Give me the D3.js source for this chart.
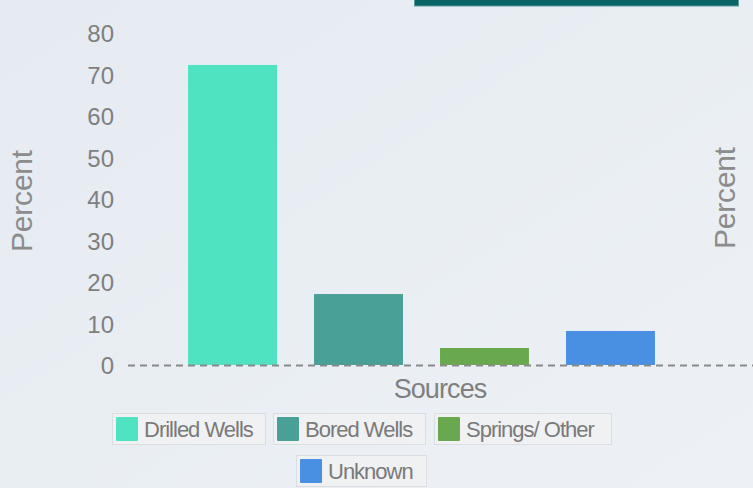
<!DOCTYPE html>
<html>
<head>
<meta charset="utf-8">
<script src="https://cdn.jsdelivr.net/npm/d3@7"></script>
<style>
  body { margin: 0; background: #e8eef4; }
  svg { display: block; font-family: "Liberation Sans", Arial, sans-serif; }
</style>
</head>
<body>
<svg id="chart" width="753" height="488"></svg>
<script>
const categories = ["Drilled Wells", "Bored Wells", "Springs/ Other", "Unknown"];
const values = [72.3, 17.1, 4.1, 8.2];
const colors = ["#50e3c2", "#48a097", "#6aa84f", "#4a90e2"];
const yTicks = [0, 10, 20, 30, 40, 50, 60, 70, 80];

const svg = d3.select("#chart"),
      width = +svg.attr("width"),
      height = +svg.attr("height");

// background
const grad = svg.append("defs").append("linearGradient")
    .attr("id", "bg").attr("x1", 0).attr("y1", 0).attr("x2", 1).attr("y2", 1);
grad.append("stop").attr("offset", "0%").attr("stop-color", "#e5ebf1");
grad.append("stop").attr("offset", "100%").attr("stop-color", "#edf1f6");
svg.append("rect").attr("width", width).attr("height", height).attr("fill", "url(#bg)");

// header strip
svg.append("rect")
    .attr("x", 414.5).attr("y", -2).attr("width", 324).attr("height", 8)
    .attr("fill", "#0a6466").attr("stroke", "#5a9a9c").attr("stroke-width", 1);

const x = d3.scaleBand()
    .domain(categories)
    .range([151, 692])
    .paddingInner(0.294)
    .paddingOuter(0.294);

const y = d3.scaleLinear()
    .domain([0, 80])
    .range([365, 33]);

// y tick labels
const yAxis = svg.append("g")
    .attr("transform", "translate(114,0)")
    .call(d3.axisLeft(y).tickValues(yTicks).tickSize(0).tickPadding(0));
yAxis.select(".domain").remove();
yAxis.selectAll("text")
    .attr("fill", "#7f7f7f")
    .style("font-size", "24px")
    .attr("dy", "0.36em");

// bars
svg.append("g").selectAll("rect")
    .data(values)
    .join("rect")
    .attr("x", (d, i) => x(categories[i]))
    .attr("y", d => y(d))
    .attr("width", x.bandwidth())
    .attr("height", d => y(0) - y(d))
    .attr("fill", (d, i) => colors[i]);

// dashed zero line
svg.append("line")
    .attr("x1", 128).attr("x2", width)
    .attr("y1", y(0) + 0.5).attr("y2", y(0) + 0.5)
    .attr("stroke", "#8a8a8a")
    .attr("stroke-width", 2)
    .attr("stroke-dasharray", "7,5");

// axis titles
svg.append("text")
    .attr("x", 440).attr("y", 398)
    .attr("text-anchor", "middle")
    .attr("fill", "#7f7f7f")
    .style("font-size", "27px")
    .style("letter-spacing", "-0.9px")
    .text("Sources");

svg.append("text")
    .attr("transform", "translate(32,201) rotate(-90)")
    .attr("text-anchor", "middle")
    .attr("fill", "#8c8c8c")
    .style("font-size", "30px")
    .style("letter-spacing", "-0.2px")
    .text("Percent");

svg.append("text")
    .attr("transform", "translate(735,198) rotate(-90)")
    .attr("text-anchor", "middle")
    .attr("fill", "#8c8c8c")
    .style("font-size", "30px")
    .style("letter-spacing", "-0.2px")
    .text("Percent");

// legend
const legendPos = [
    { x: 112, y: 413, w: 153 },
    { x: 273, y: 413, w: 152 },
    { x: 434, y: 413, w: 177 },
    { x: 296, y: 455, w: 130 }
];

const legend = svg.append("g").selectAll("g")
    .data(categories)
    .join("g")
    .attr("transform", (d, i) => `translate(${legendPos[i].x},${legendPos[i].y})`);

legend.append("rect")
    .attr("x", 0.5).attr("y", 0.5)
    .attr("width", (d, i) => legendPos[i].w).attr("height", 31)
    .attr("fill", "#f0f1f2")
    .attr("stroke", "#dcdde0");

legend.append("rect")
    .attr("x", 4).attr("y", 4)
    .attr("width", 22).attr("height", 24)
    .attr("rx", 1)
    .attr("fill", (d, i) => colors[i]);

legend.append("text")
    .attr("x", 32).attr("y", 16)
    .attr("dy", "0.36em")
    .attr("fill", "#7a7a7a")
    .style("font-size", "22px")
    .style("letter-spacing", "-1px")
    .text(d => d);
</script>
</body>
</html>
